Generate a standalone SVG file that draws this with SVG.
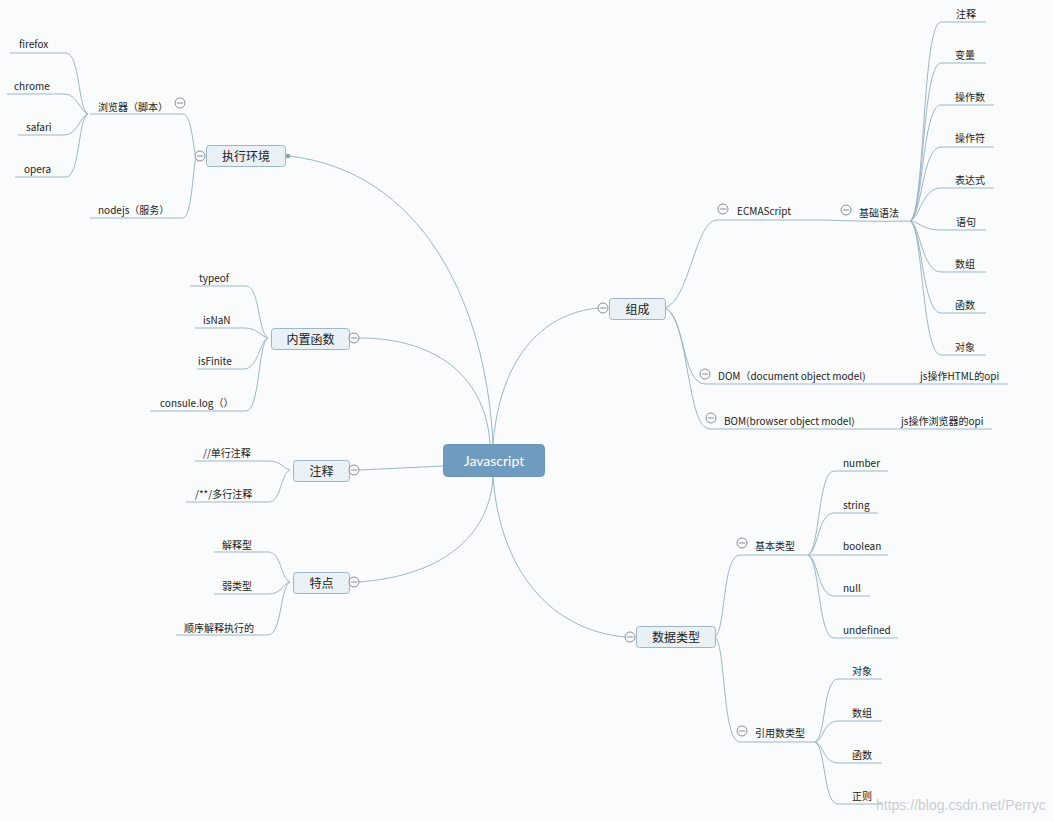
<svg xmlns="http://www.w3.org/2000/svg" width="1054" height="821" viewBox="0 0 1054 821">
<defs>
<style>
.bg{fill:#fafbfc}
.ln{fill:none;stroke:#9db5c9;stroke-width:1}
.box{fill:#e9f0f6;stroke:#9fb4c6;stroke-width:1}
.root{fill:#6f9bbf;stroke:#6a95b9}
.t{font-family:"Noto Sans CJK SC","Noto Sans",sans-serif;font-size:10px;fill:#222}
.t1{font-family:"Noto Sans CJK SC","Noto Sans",sans-serif;font-size:12px;fill:#222;text-anchor:middle}
.rt{font-family:Lato,"Noto Sans",sans-serif;font-size:14px;fill:#ffffff;text-anchor:middle}
.wm{font-family:"Liberation Sans",Arial,sans-serif;font-size:14px;fill:#b8bcc2;fill-opacity:0.75}
</style>
<g id="col">
<circle cx="0" cy="0" r="5" fill="#fafbfc" stroke="#8a8f95" stroke-width="1"/>
<line x1="-3.2" y1="0" x2="3.2" y2="0" stroke="#8a8f95" stroke-width="1"/>
</g>
</defs>
<rect class="bg" x="0" y="0" width="1054" height="821"/>

<g id="connectors">
<path class="ln" d="M493 444 C486 300 420 170 288 156"/>
<path class="ln" d="M359 338 C440 338 486 380 490 444"/>
<path class="ln" d="M359 470 L443 466"/>
<path class="ln" d="M359 582 C450 575 490 530 493 477"/>
<path class="ln" d="M493 444 C500 360 540 314 598 308"/>
<path class="ln" d="M493 477 C500 570 550 630 625 637"/>
<path class="ln" d="M90 114 L183 114 C192 114 193 150 196 156"/>
<path class="ln" d="M90 218 L183 218 C192 218 193 165 196 158"/>
<path class="ln" d="M88 114 C78 110 80 53 66 53 L10 53"/>
<path class="ln" d="M88 114 C80 112 78 94 64 94 L7 94"/>
<path class="ln" d="M88 114 C80 116 78 135 64 135 L18 135"/>
<path class="ln" d="M88 114 C78 118 80 177 66 177 L15 177"/>
<path class="ln" d="M268 338 C258 334 260 286 246 286 L190 286"/>
<path class="ln" d="M268 338 C260 336 258 328 244 328 L195 328"/>
<path class="ln" d="M268 338 C260 340 258 369 244 369 L197 369"/>
<path class="ln" d="M268 338 C258 342 260 411 246 411 L150 411"/>
<path class="ln" d="M290 470 C282 468 282 461 268 461 L195 461"/>
<path class="ln" d="M290 470 C280 474 282 502 268 502 L186 502"/>
<path class="ln" d="M290 582 C280 578 282 552 268 552 L214 552"/>
<path class="ln" d="M290 582 C282 584 282 594 268 594 L214 594"/>
<path class="ln" d="M290 582 C280 586 282 635 268 635 L176 635"/>
<path class="ln" d="M665 308 C690 300 695 220 717 220 L815 220 C840 220 860 222 910 221"/>
<path class="ln" d="M665 308 C685 315 682 384 705 384 L1008 384"/>
<path class="ln" d="M665 308 C690 320 686 429 710 429 L992 429"/>
<path class="ln" d="M910 221 C925 215 922 22 941 22 L986 22"/>
<path class="ln" d="M910 221 C924 215 922 63 941 63 L986 63"/>
<path class="ln" d="M910 221 C923 216 922 105 941 105 L994 105"/>
<path class="ln" d="M910 221 C922 217 922 147 941 147 L994 147"/>
<path class="ln" d="M910 221 C920 218 922 188 941 188 L994 188"/>
<path class="ln" d="M910 221 C920 222 922 230 941 230 L986 230"/>
<path class="ln" d="M910 221 C920 224 922 272 941 272 L986 272"/>
<path class="ln" d="M910 221 C922 225 922 313 941 313 L986 313"/>
<path class="ln" d="M910 221 C923 226 922 355 941 355 L986 355"/>
<path class="ln" d="M715 637 C726 630 722 555 740 555 L808 555"/>
<path class="ln" d="M715 637 C726 645 722 742 740 742 L815 742"/>
<path class="ln" d="M808 555 C820 550 818 471 834 471 L888 471"/>
<path class="ln" d="M808 555 C818 552 818 513 834 513 L878 513"/>
<path class="ln" d="M808 555 L888 555"/>
<path class="ln" d="M808 555 C818 558 818 596 834 596 L870 596"/>
<path class="ln" d="M808 555 C820 560 818 638 834 638 L898 638"/>
<path class="ln" d="M815 742 C826 737 823 679 838 679 L882 679"/>
<path class="ln" d="M815 742 C824 740 823 721 838 721 L882 721"/>
<path class="ln" d="M815 742 C824 744 823 763 838 763 L882 763"/>
<path class="ln" d="M815 742 C826 747 823 804 838 804 L882 804"/>
<circle cx="288" cy="156" r="2.2" fill="#7fa0bd"/>
</g>

<g id="n-root">
<rect class="root" x="443.5" y="444.5" width="101" height="32" rx="4"/>
<text class="rt" x="494" y="466">Javascript</text>
</g>

<g id="n-env">
<rect class="box" x="206.5" y="145.5" width="79" height="21" rx="3"/>
<text class="t1" x="246" y="160.5">执行环境</text>
<use href="#col" x="200" y="156"/>
</g>
<g id="n-browser">
<text class="t" x="98" y="111">浏览器（脚本）</text>
<use href="#col" x="180" y="103"/>
</g>
<g id="n-nodejs"><text class="t" x="98" y="214">nodejs（服务）</text></g>
<g id="n-firefox"><text class="t" x="19" y="48">firefox</text></g>
<g id="n-chrome"><text class="t" x="14" y="90">chrome</text></g>
<g id="n-safari"><text class="t" x="26" y="131">safari</text></g>
<g id="n-opera"><text class="t" x="24" y="173">opera</text></g>

<g id="n-builtin">
<rect class="box" x="271.5" y="328.5" width="78" height="21" rx="3"/>
<text class="t1" x="310.5" y="343.5">内置函数</text>
<use href="#col" x="354" y="338"/>
</g>
<g id="n-typeof"><text class="t" x="199" y="282">typeof</text></g>
<g id="n-isnan"><text class="t" x="203" y="324">isNaN</text></g>
<g id="n-isfinite"><text class="t" x="198" y="365">isFinite</text></g>
<g id="n-consule"><text class="t" x="160" y="407">consule.log（）</text></g>

<g id="n-comment">
<rect class="box" x="293.5" y="460.5" width="56" height="21" rx="3"/>
<text class="t1" x="321.5" y="475.5">注释</text>
<use href="#col" x="354" y="470"/>
</g>
<g id="n-single"><text class="t" x="203" y="457">//单行注释</text></g>
<g id="n-multi"><text class="t" x="195" y="498">/**/多行注释</text></g>

<g id="n-feature">
<rect class="box" x="293.5" y="572.5" width="56" height="21" rx="3"/>
<text class="t1" x="321.5" y="587.5">特点</text>
<use href="#col" x="354" y="582"/>
</g>
<g id="n-interp"><text class="t" x="222" y="549">解释型</text></g>
<g id="n-weak"><text class="t" x="222" y="590">弱类型</text></g>
<g id="n-seq"><text class="t" x="184" y="632">顺序解释执行的</text></g>

<g id="n-compose">
<rect class="box" x="609.5" y="298.5" width="56" height="21" rx="3"/>
<text class="t1" x="637.5" y="313.5">组成</text>
<use href="#col" x="603" y="308"/>
</g>
<g id="n-ecma">
<text class="t" x="737" y="215">ECMAScript</text>
<use href="#col" x="723" y="209"/>
</g>
<g id="n-basic">
<text class="t" x="859" y="217">基础语法</text>
<use href="#col" x="846" y="210"/>
</g>
<g id="n-b1"><text class="t" x="956" y="18">注释</text></g>
<g id="n-b2"><text class="t" x="955" y="59">变量</text></g>
<g id="n-b3"><text class="t" x="955" y="101">操作数</text></g>
<g id="n-b4"><text class="t" x="955" y="142">操作符</text></g>
<g id="n-b5"><text class="t" x="955" y="184">表达式</text></g>
<g id="n-b6"><text class="t" x="956" y="226">语句</text></g>
<g id="n-b7"><text class="t" x="955" y="268">数组</text></g>
<g id="n-b8"><text class="t" x="955" y="309">函数</text></g>
<g id="n-b9"><text class="t" x="955" y="351">对象</text></g>
<g id="n-dom">
<text class="t" x="718" y="380">DOM（document object model)</text>
<text class="t" x="920" y="380">js操作HTML的opi</text>
<use href="#col" x="705" y="374"/>
</g>
<g id="n-bom">
<text class="t" x="724" y="425">BOM(browser object model)</text>
<text class="t" x="901" y="425">js操作浏览器的opi</text>
<use href="#col" x="711" y="418"/>
</g>

<g id="n-dtype">
<rect class="box" x="636.5" y="626.5" width="79" height="21" rx="3"/>
<text class="t1" x="676" y="641.5">数据类型</text>
<use href="#col" x="630" y="637"/>
</g>
<g id="n-prim">
<text class="t" x="755" y="550">基本类型</text>
<use href="#col" x="742" y="543"/>
</g>
<g id="n-number"><text class="t" x="843" y="467">number</text></g>
<g id="n-string"><text class="t" x="843" y="509">string</text></g>
<g id="n-boolean"><text class="t" x="843" y="550">boolean</text></g>
<g id="n-null"><text class="t" x="843" y="592">null</text></g>
<g id="n-undefined"><text class="t" x="843" y="634">undefined</text></g>
<g id="n-ref">
<text class="t" x="755" y="737">引用数类型</text>
<use href="#col" x="742" y="731"/>
</g>
<g id="n-r1"><text class="t" x="852" y="675">对象</text></g>
<g id="n-r2"><text class="t" x="852" y="717">数组</text></g>
<g id="n-r3"><text class="t" x="852" y="759">函数</text></g>
<g id="n-r4"><text class="t" x="852" y="800">正则</text></g>

<text class="wm" x="876" y="810">https://blog.csdn.net/Perryc</text>
</svg>
